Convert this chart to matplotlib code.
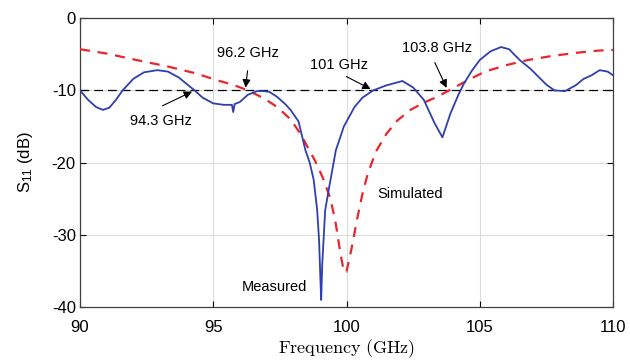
import matplotlib

matplotlib.use("Agg")
import matplotlib.pyplot as plt
import numpy as np

plt.rcParams["font.family"] = ["Liberation Sans", "DejaVu Sans"]
plt.rcParams["axes.unicode_minus"] = False
plt.rcParams["mathtext.fontset"] = "custom"
plt.rcParams["mathtext.rm"] = "Liberation Sans"
plt.rcParams["mathtext.it"] = "Liberation Sans:italic"

# measured S11 (GHz, dB)
f_meas = [90.0, 90.3, 90.6, 90.86, 91.1, 91.35, 91.6, 92.0, 92.4, 92.9, 93.3, 93.7,
          94.0, 94.3, 94.6, 95.0, 95.4, 95.7, 95.75, 95.8, 96.0, 96.3, 96.65, 96.9,
          97.1, 97.4, 97.7, 97.9, 98.2, 98.46, 98.62, 98.77, 98.9, 98.97, 99.02, 99.05,
          99.09, 99.12, 99.2, 99.33, 99.6, 99.9, 100.3, 100.6, 101.0, 101.5, 102.1,
          102.5, 102.9, 103.3, 103.6, 103.9, 104.2, 104.4, 104.7, 105.0, 105.4,
          105.8, 106.1, 106.5, 106.9, 107.2, 107.5, 107.8, 108.2, 108.6, 108.9,
          109.2, 109.5, 109.8, 110.0]
s_meas = [-10.0, -11.3, -12.3, -12.7, -12.4, -11.3, -10.0, -8.4, -7.5, -7.2, -7.4, -8.2,
          -9.1, -10.0, -11.0, -11.8, -12.0, -12.0, -13.0, -11.9, -11.6, -10.6, -10.1,
          -10.1, -10.2, -10.9, -11.9, -12.7, -14.3, -18.3, -20.0, -22.4, -26.6, -30.7,
          -36.0, -39.0, -34.0, -32.0, -26.6, -23.8, -18.3, -15.0, -12.3, -11.0, -10.0,
          -9.3, -8.7, -9.6, -11.3, -14.5, -16.5, -13.2, -10.6, -9.1, -7.3, -5.8, -4.6,
          -4.0, -4.3, -5.8, -7.0, -8.1, -9.2, -10.0, -10.1, -9.3, -8.4, -7.9, -7.2,
          -7.4, -7.9]

# simulated S11 (GHz, dB)
f_sim = [90.0, 91.0, 92.0, 93.3, 94.3, 95.15, 95.8, 96.3, 96.9, 97.4, 97.9, 98.27,
         98.8, 99.1, 99.4, 99.6, 99.77, 99.9, 100.0, 100.2, 100.4, 100.6, 100.8, 101.1,
         101.5, 101.9, 102.4, 102.9, 103.4, 104.0, 104.6, 105.2, 106.0, 106.8, 107.6,
         108.4, 109.1, 109.8, 110.0]
s_sim = [-4.3, -4.9, -5.7, -6.7, -7.6, -8.6, -9.3, -10.0, -11.1, -12.3, -14.0, -16.0,
         -19.6, -22.0, -25.0, -28.5, -32.5, -35.1, -35.1, -31.7, -27.8, -24.3, -21.5,
         -18.5, -16.0, -14.2, -12.7, -11.7, -10.9, -9.7, -8.5, -7.4, -6.5, -5.8, -5.3,
         -4.9, -4.6, -4.4, -4.4]

# -10 dB crossings to annotate
cross_f = [94.3, 96.2, 101.0, 103.8]
cross_lbl = ["94.3 GHz", "96.2 GHz", "101 GHz", "103.8 GHz"]
text_xy = [(93.05, -14.2), (96.3, -4.8), (99.7, -6.5), (103.4, -4.2)]
arrow_from = [(93.0, -12.3), (96.3, -6.9), (99.9, -7.9), (103.27, -5.8)]

fig = plt.figure(figsize=(6.3, 3.63), dpi=100)
ax = fig.add_axes([0.127, 0.154, 0.846, 0.796])

ax.axhline(-10, color="black", lw=0.9, ls=(0, (7, 4)), zorder=2)
ax.plot(f_sim, s_sim, color="#e8262b", lw=1.6, ls=(0, (4.5, 3.5)), zorder=3)
ax.plot(f_meas, s_meas, color="#2f3fae", lw=1.3, zorder=4)

for f, lbl, txy, a0 in zip(cross_f, cross_lbl, text_xy, arrow_from):
    ax.annotate("", xy=(f, -10), xytext=a0,
                arrowprops=dict(arrowstyle="-|>", color="black", lw=0.8,
                                mutation_scale=12), zorder=5)
    ax.text(txy[0], txy[1], lbl, fontsize=10.5, ha="center", va="center", zorder=6)

ax.text(97.3, -37.2, "Measured", fontsize=10.5, ha="center", va="center")
ax.text(102.4, -24.3, "Simulated", fontsize=10.5, ha="center", va="center")

ax.set_xlim(90, 110)
ax.set_ylim(-40, 0)
ax.set_xticks([90, 95, 100, 105, 110])
ax.set_yticks([-40, -30, -20, -10, 0])
ax.grid(True, color="#dcdcdc", lw=0.8)
ax.set_axisbelow(True)
ax.tick_params(direction="in", top=True, right=True, labelsize=12, length=4)
ax.tick_params(axis="x", pad=9)
ax.tick_params(axis="y", pad=3)
for sp in ax.spines.values():
    sp.set_color("#404040")
    sp.set_linewidth(0.9)

ax.set_xlabel(r"$\mathrm{Frequency\ (GHz)}$", fontsize=13, labelpad=2,
              math_fontfamily="cm")
ax.set_ylabel(r"S$_{11}$ (dB)", fontsize=12, labelpad=12)

fig.savefig("out.png", dpi=100)
